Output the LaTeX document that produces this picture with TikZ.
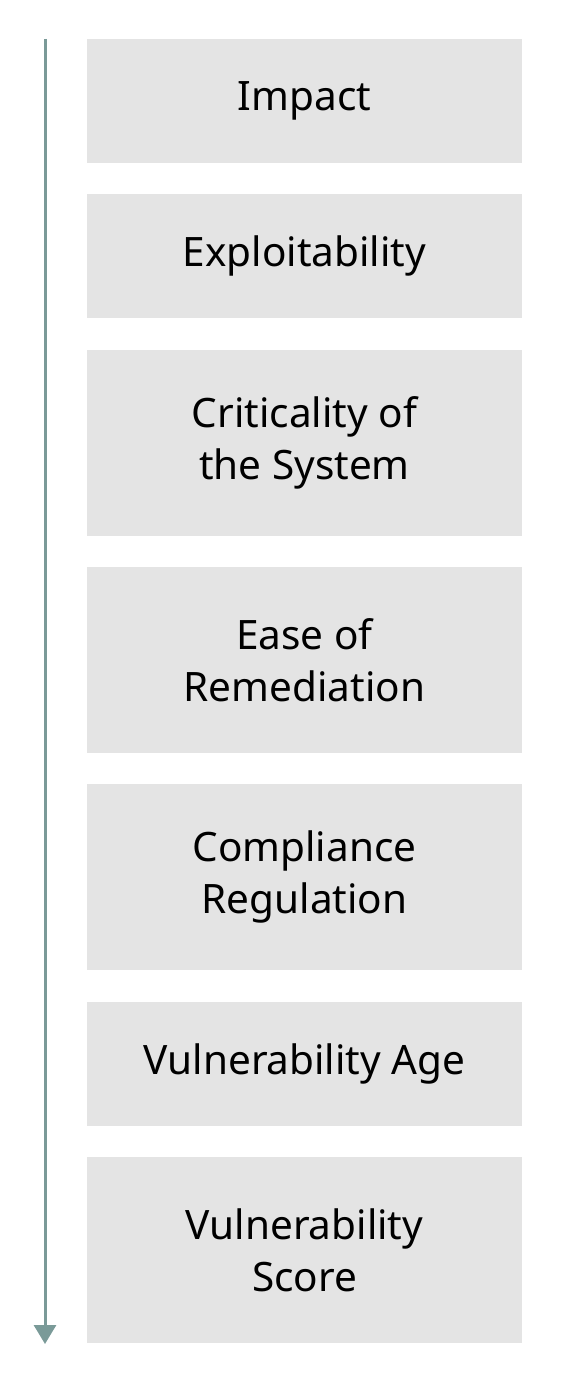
\documentclass[tikz,border=0pt]{standalone}
\usepackage{fontspec}
\setmainfont{Noto Sans}
\usetikzlibrary{positioning,arrows.meta}
\definecolor{boxgray}{HTML}{E4E4E4}
\definecolor{arrowteal}{HTML}{7A9A98}
\tikzstyle{factor}=[fill=boxgray,minimum width=435pt,inner sep=0pt,outer sep=0pt,align=center,font=\fontsize{40.5}{52}\selectfont]
\tikzstyle{short}=[factor,minimum height=124pt]
\tikzstyle{tall}=[factor,minimum height=186pt]

\begin{document}
\begin{tikzpicture}[x=1pt,y=-1pt,node distance=31.33pt]
 \useasboundingbox (0,0) rectangle (576,1386);
 \node[short,anchor=north west] (impact) at (87,39) {Impact};
 \node[short,below=of impact] (exploit) {Exploitability};
 \node[tall,below=of exploit] (critical) {Criticality of\\the System};
 \node[tall,below=of critical] (ease) {Ease of\\Remediation};
 \node[tall,below=of ease] (comply) {Compliance\\Regulation};
 \node[short,below=of comply] (age) {Vulnerability Age};
 \node[tall,below=of age] (score) {Vulnerability\\Score};
 % priority arrow
 \coordinate (top) at (45,39);
 \coordinate (bottom) at (45,1344);
 \draw[arrowteal,line width=3pt,-{Triangle[width=22pt,length=19pt]}] (top) -- (bottom);
\end{tikzpicture}
\end{document}
